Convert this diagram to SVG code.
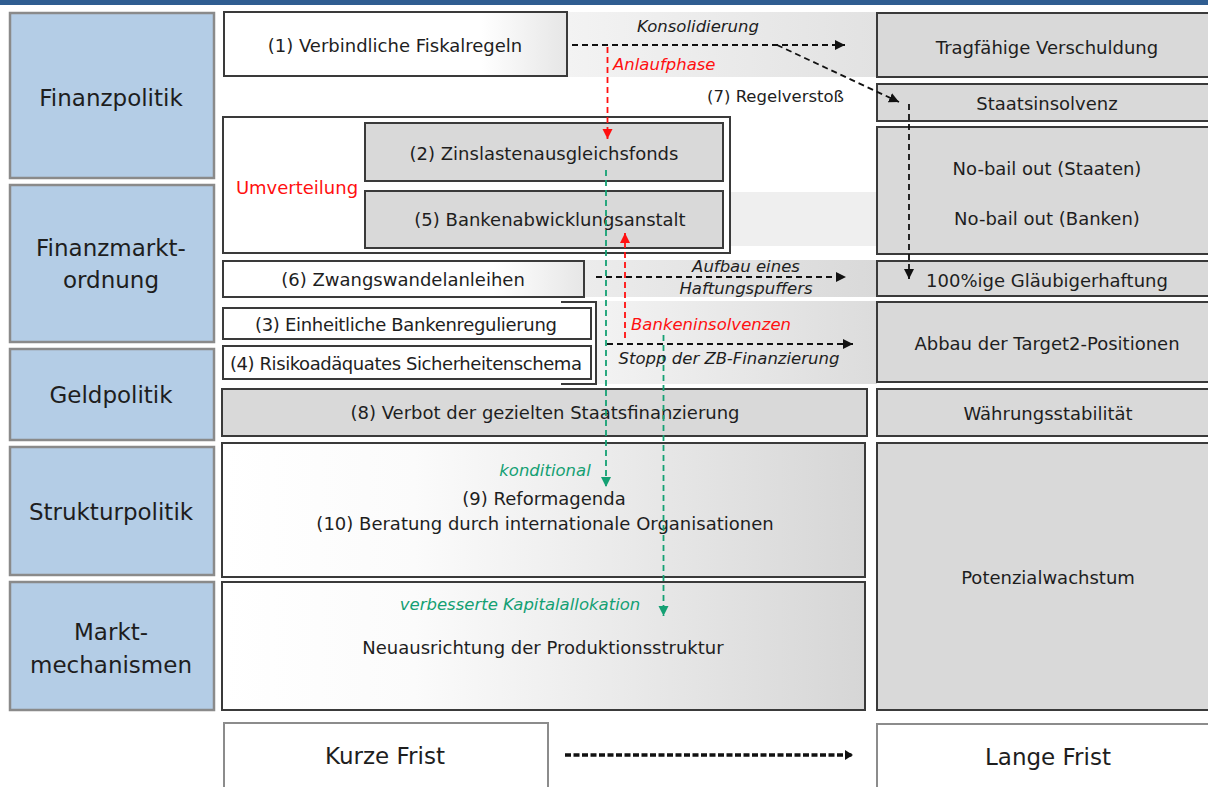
<svg xmlns="http://www.w3.org/2000/svg" width="1208" height="787" viewBox="0 0 1208 787">
<defs>
<style>
text{font-family:"DejaVu Sans","Liberation Sans",sans-serif;fill:#1e1e1e;text-anchor:middle;dominant-baseline:central}
.cat rect{fill:#b4cde6;stroke:#8a8a8a;stroke-width:2.5}
.cat text{font-size:23px}
.box{stroke:#3a3a3a;stroke-width:2}
.gray{fill:#d9d9d9}
.lbl{font-size:18px}
.it{font-style:italic;font-size:16.5px}
.red{fill:#ff1010}
.grn{fill:#14a073}
.conn{fill:none;stroke-width:1.8;stroke-dasharray:6,4}
.k{stroke:#111}
.r{stroke:#ff1010}
.g{stroke:#14a073}
.frist{fill:#fff;stroke:#8c8c8c;stroke-width:2}
</style>
<linearGradient id="gWG" x1="0" y1="0" x2="1" y2="0"><stop offset="0" stop-color="#fff"/><stop offset="0.3" stop-color="#fbfbfb"/><stop offset="1" stop-color="#d6d6d6"/></linearGradient>
<linearGradient id="gB1" x1="0" y1="0" x2="1" y2="0"><stop offset="0" stop-color="#fff"/><stop offset="0.75" stop-color="#fff"/><stop offset="1" stop-color="#e6e6e6"/></linearGradient>
<linearGradient id="gBand1" x1="0" y1="0" x2="1" y2="0"><stop offset="0" stop-color="#f3f3f3"/><stop offset="1" stop-color="#e2e2e2"/></linearGradient>
<linearGradient id="gBand2" x1="0" y1="0" x2="1" y2="0"><stop offset="0" stop-color="#ececec"/><stop offset="1" stop-color="#d9d9d9"/></linearGradient>
<linearGradient id="gBand3" x1="0" y1="0" x2="1" y2="0"><stop offset="0" stop-color="#f3f3f3"/><stop offset="1" stop-color="#dcdcdc"/></linearGradient>
<marker id="aK" markerUnits="userSpaceOnUse" markerWidth="12" markerHeight="12" refX="10" refY="5" orient="auto"><path d="M0,0 L10,5 L0,10 z" fill="#111"/></marker>
<marker id="aR" markerUnits="userSpaceOnUse" markerWidth="12" markerHeight="12" refX="10" refY="5" orient="auto"><path d="M0,0 L10,5 L0,10 z" fill="#ff1010"/></marker>
<marker id="aG" markerUnits="userSpaceOnUse" markerWidth="12" markerHeight="12" refX="10" refY="5" orient="auto"><path d="M0,0 L10,5 L0,10 z" fill="#14a073"/></marker>
<marker id="aKB" markerUnits="userSpaceOnUse" markerWidth="14" markerHeight="14" refX="8" refY="5" orient="auto"><path d="M0,0 L8,5 L0,10 z" fill="#111"/></marker>
</defs>
<rect x="0" y="0" width="1208" height="787" fill="#fff"/>
<rect x="0" y="0" width="1208" height="5" fill="#2f5d91"/>

<g id="bands">
<rect x="567" y="12" width="310" height="65" fill="url(#gBand1)"/>
<rect x="724" y="192" width="153" height="54" fill="#efefef"/>
<rect x="584" y="260" width="293" height="37" fill="url(#gBand2)"/>
<rect x="596" y="301" width="281" height="83" fill="url(#gBand3)"/>
</g>

<g id="cat-finanzpolitik" class="cat"><rect x="10" y="13" width="204" height="165"/><text x="111" y="98">Finanzpolitik</text></g>
<g id="cat-finanzmarktordnung" class="cat"><rect x="10" y="185" width="204" height="157"/><text x="111" y="248">Finanzmarkt-</text><text x="111" y="280">ordnung</text></g>
<g id="cat-geldpolitik" class="cat"><rect x="10" y="349" width="204" height="91"/><text x="111" y="395">Geldpolitik</text></g>
<g id="cat-strukturpolitik" class="cat"><rect x="10" y="447" width="204" height="128"/><text x="111" y="512">Strukturpolitik</text></g>
<g id="cat-marktmechanismen" class="cat"><rect x="10" y="582" width="204" height="128"/><text x="111" y="632">Markt-</text><text x="111" y="665">mechanismen</text></g>

<g id="n1"><rect class="box" x="224" y="12" width="343" height="64" fill="url(#gB1)"/><text class="lbl" x="395" y="45">(1) Verbindliche Fiskalregeln</text></g>
<g id="umverteilung"><rect class="box" x="223" y="117" width="507" height="136" fill="#fff"/><text class="lbl red" x="297" y="187">Umverteilung</text></g>
<g id="n2"><rect class="box gray" x="365" y="123" width="358" height="58"/><text class="lbl" x="544" y="153">(2) Zinslastenausgleichsfonds</text></g>
<g id="n5"><rect class="box gray" x="365" y="191" width="358" height="57"/><text class="lbl" x="550" y="219">(5) Bankenabwicklungsanstalt</text></g>
<g id="n6"><rect class="box" x="223" y="261" width="361" height="36" fill="url(#gB1)"/><text class="lbl" x="403" y="279">(6) Zwangswandelanleihen</text></g>
<g id="bracket"><polyline points="561,302 596,302 596,384 561,384" fill="none" stroke="#3a3a3a" stroke-width="2"/></g>
<g id="n3"><rect class="box" x="223" y="308" width="368" height="31" fill="#fff"/><text class="lbl" x="406" y="324" textLength="302">(3) Einheitliche Bankenregulierung</text></g>
<g id="n4"><rect class="box" x="223" y="346" width="368" height="33" fill="#fff"/><text class="lbl" x="406" y="363" textLength="352">(4) Risikoadäquates Sicherheitenschema</text></g>
<g id="n8"><rect class="box gray" x="222" y="389" width="645" height="47"/><text class="lbl" x="545" y="412">(8) Verbot der gezielten Staatsfinanzierung</text></g>
<g id="n9"><rect class="box" x="222" y="443" width="643" height="134" fill="url(#gWG)"/><text class="it grn" x="545" y="470">konditional</text><text class="lbl" x="544" y="498">(9) Reformagenda</text><text class="lbl" x="545" y="523">(10) Beratung durch internationale Organisationen</text></g>
<g id="nprod"><rect class="box" x="222" y="582" width="643" height="128" fill="url(#gWG)"/><text class="it grn" x="520" y="604">verbesserte Kapitalallokation</text><text class="lbl" x="543" y="647">Neuausrichtung der Produktionsstruktur</text></g>

<g id="tragf"><rect class="box gray" x="877" y="13" width="340" height="64"/><text class="lbl" x="1047" y="47">Tragfähige Verschuldung</text></g>
<g id="staatsins"><rect class="box gray" x="877" y="84" width="340" height="37"/><text class="lbl" x="1047" y="103">Staatsinsolvenz</text></g>
<g id="nobail"><rect class="box gray" x="877" y="127" width="340" height="127"/><text class="lbl" x="1047" y="168">No-bail out (Staaten)</text><text class="lbl" x="1047" y="218">No-bail out (Banken)</text></g>
<g id="glaeub"><rect class="box gray" x="877" y="261" width="340" height="35"/><text class="lbl" x="1047" y="280">100%ige Gläubigerhaftung</text></g>
<g id="target2"><rect class="box gray" x="877" y="302" width="340" height="80"/><text class="lbl" x="1047" y="343">Abbau der Target2-Positionen</text></g>
<g id="waehrung"><rect class="box gray" x="877" y="389" width="340" height="47"/><text class="lbl" x="1048" y="413">Währungsstabilität</text></g>
<g id="potenzial"><rect class="box gray" x="877" y="443" width="340" height="267"/><text class="lbl" x="1048" y="577">Potenzialwachstum</text></g>

<g id="kurz"><rect class="frist" x="224" y="723" width="324" height="70"/><text x="385" y="756" font-size="23">Kurze Frist</text></g>
<g id="lang"><rect class="frist" x="877" y="724" width="340" height="70"/><text x="1048" y="757" font-size="23">Lange Frist</text></g>

<g id="connectors">
<line class="conn k" x1="572" y1="45" x2="845" y2="45" marker-end="url(#aK)"/>
<line class="conn k" x1="777" y1="45" x2="899" y2="102" marker-end="url(#aK)"/>
<line class="conn r" x1="607.5" y1="47" x2="607.5" y2="139" marker-end="url(#aR)"/>
<line class="conn k" x1="909" y1="104" x2="909" y2="279" stroke-dasharray="8,3,2,3" marker-end="url(#aK)"/>
<line class="conn k" x1="596" y1="277" x2="846" y2="277" marker-end="url(#aK)"/>
<line class="conn k" x1="607" y1="344" x2="853" y2="344" marker-end="url(#aK)"/>
<line class="conn r" x1="625" y1="338" x2="625" y2="233" marker-end="url(#aR)"/>
<line class="conn g" x1="606" y1="170" x2="606" y2="487" marker-end="url(#aG)"/>
<line class="conn g" x1="663.5" y1="335" x2="663.5" y2="616" marker-end="url(#aG)"/>
<line x1="565" y1="755" x2="853" y2="755" stroke="#111" stroke-width="3.5" stroke-dasharray="6,2.5" marker-end="url(#aKB)"/>
<text class="it" x="698" y="26">Konsolidierung</text>
<text class="it red" x="613" y="64" style="text-anchor:start">Anlaufphase</text>
<text x="844" y="96" font-size="16.5" style="text-anchor:end">(7) Regelverstoß</text>
<text class="it" x="746" y="266">Aufbau eines</text>
<text class="it" x="746" y="288">Haftungspuffers</text>
<text class="it red" x="631" y="324" style="text-anchor:start">Bankeninsolvenzen</text>
<text class="it" x="729" y="358">Stopp der ZB-Finanzierung</text>
</g>
</svg>
